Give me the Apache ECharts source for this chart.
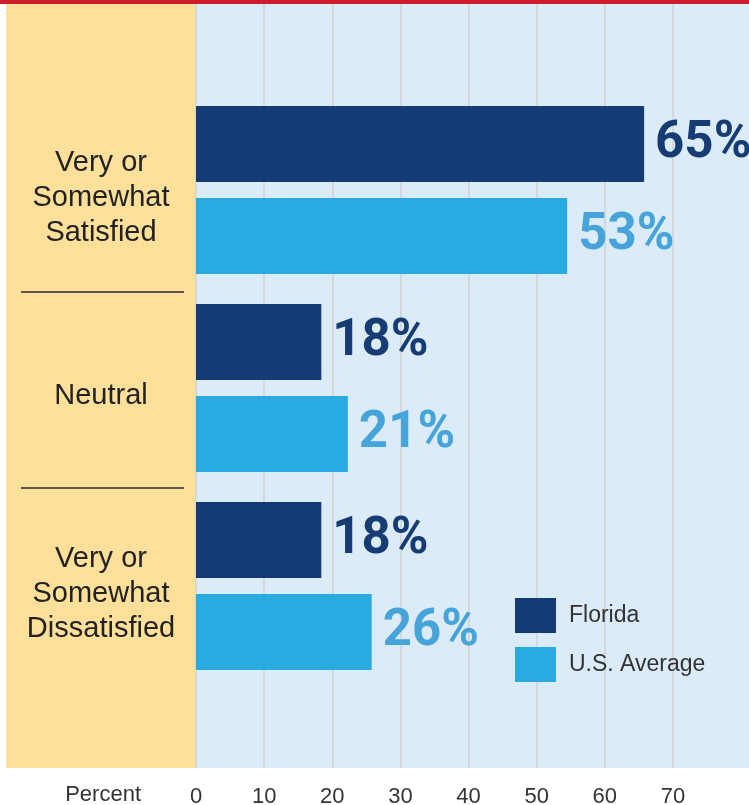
<!DOCTYPE html>
<html>
<head>
<meta charset="utf-8">
<script src="https://cdn.jsdelivr.net/npm/echarts@6/dist/echarts.min.js"></script>
<style>
html,body{margin:0;padding:0;background:#ffffff;}
#chart{width:749px;height:805px;}
</style>
</head>
<body>
<div id="chart"></div>
<script>
// ---- data ----
var categories = ['Very or\nSomewhat\nSatisfied', 'Neutral', 'Very or\nSomewhat\nDissatisfied'];
var seriesNames = ['Florida', 'U.S. Average'];
var floridaValues = [65.8, 18.4, 18.4];
var usValues = [54.5, 22.3, 25.8];
var floridaLabels = ['65%', '18%', '18%'];
var usLabels = ['53%', '21%', '26%'];
var tickMax = 70;
var axisTitle = 'Percent';

var FL_COLOR = '#153b75';
var US_COLOR = '#29abe2';
var FL_LABEL = '#173c74';
var US_LABEL = '#46a4da';
var labelFont = "Roboto, 'Liberation Sans', sans-serif";
var textFont = "'Liberation Sans', Arial, Helvetica, sans-serif";

var chart = echarts.init(document.getElementById('chart'));

var option = {
  animation: false,
  backgroundColor: '#ffffff',
  graphic: [
    { type: 'rect', z: -10, shape: { x: 0, y: 0, width: 749, height: 4 }, style: { fill: '#cc1d2a' } },
    { type: 'rect', z: -10, shape: { x: 6, y: 4, width: 190, height: 764 }, style: { fill: '#fee09b' } },
    { type: 'rect', z: -10, shape: { x: 196, y: 4, width: 553, height: 764 }, style: { fill: '#dbebf7' } },
    { type: 'line', z: 5, shape: { x1: 21, y1: 292, x2: 184, y2: 292 }, style: { stroke: '#2a2a2a', lineWidth: 1.5 } },
    { type: 'line', z: 5, shape: { x1: 21, y1: 488, x2: 184, y2: 488 }, style: { stroke: '#2a2a2a', lineWidth: 1.5 } }
  ],
  legend: {
    orient: 'vertical',
    left: 515,
    top: 598,
    icon: 'rect',
    itemWidth: 41,
    itemHeight: 35,
    itemGap: 14,
    padding: 0,
    data: seriesNames,
    textStyle: { fontFamily: textFont, fontSize: 23, color: '#333333', padding: [0, 0, 0, 8] }
  },
  grid: [
    { left: 196, right: 76, top: 4, bottom: 37, outerBoundsMode: 'none', containLabel: false },
    { left: 196, right: 15, top: 91, height: 594, outerBoundsMode: 'none', containLabel: false }
  ],
  xAxis: [
    {
      gridIndex: 0, type: 'value', min: 0, max: tickMax, interval: 10,
      name: axisTitle, nameLocation: 'start', nameGap: 55,
      nameTextStyle: { fontFamily: textFont, fontSize: 22, color: '#333333', verticalAlign: 'top', lineHeight: 54 },
      axisLine: { show: false }, axisTick: { show: false },
      axisLabel: { fontFamily: textFont, fontSize: 22, color: '#333333', margin: 18 },
      splitLine: { show: true, lineStyle: { color: '#d2d2d2', width: 1.5 } }
    },
    {
      gridIndex: 1, type: 'value', min: 0, max: 79,
      show: false, splitLine: { show: false }
    }
  ],
  yAxis: [
    { gridIndex: 0, type: 'value', show: false, splitLine: { show: false } },
    {
      gridIndex: 1, type: 'category', inverse: true, data: categories,
      axisLine: { show: false }, axisTick: { show: false },
      axisLabel: {
        align: 'center', margin: 95,
        formatter: function (v) {
          return '{s| }\n{t|' + v.split('\n').join('}\n{t|') + '}';
        },
        rich: {
          s: { fontSize: 2, lineHeight: 16 },
          t: { fontFamily: textFont, fontSize: 29, color: '#222222', lineHeight: 35, align: 'center' }
        }
      }
    }
  ],
  series: [
    {
      name: seriesNames[0], type: 'bar', xAxisIndex: 1, yAxisIndex: 1,
      data: floridaValues, barWidth: 76, barGap: '21%',
      itemStyle: { color: FL_COLOR },
      label: {
        show: true, position: 'right', distance: 11,
        formatter: function (p) { return floridaLabels[p.dataIndex]; },
        fontFamily: labelFont, fontWeight: 'bold', fontSize: 51, color: FL_LABEL
      }
    },
    {
      name: seriesNames[1], type: 'bar', xAxisIndex: 1, yAxisIndex: 1,
      data: usValues, barWidth: 76, barGap: '21%',
      itemStyle: { color: US_COLOR },
      label: {
        show: true, position: 'right', distance: 11,
        formatter: function (p) { return usLabels[p.dataIndex]; },
        fontFamily: labelFont, fontWeight: 'bold', fontSize: 51, color: US_LABEL
      }
    }
  ]
};
chart.setOption(option);
</script>
</body>
</html>
